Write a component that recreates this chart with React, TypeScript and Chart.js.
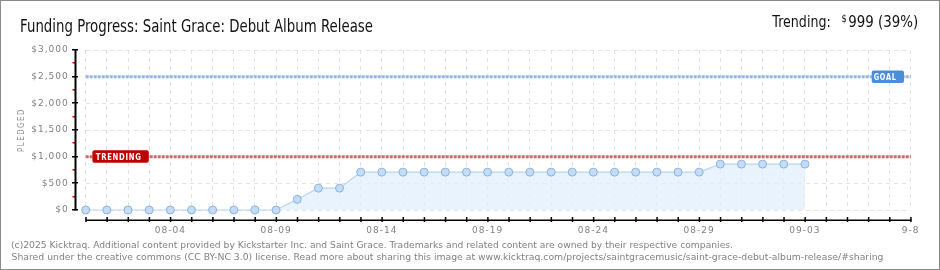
import React, { useEffect, useRef } from 'react';
import { Chart, registerables } from 'chart.js';

Chart.register(...registerables);

// ---- data ----
const dates = [
  '07-31',
  '08-01', '08-02', '08-03', '08-04', '08-05', '08-06', '08-07', '08-08', '08-09', '08-10',
  '08-11', '08-12', '08-13', '08-14', '08-15', '08-16', '08-17', '08-18', '08-19', '08-20',
  '08-21', '08-22', '08-23', '08-24', '08-25', '08-26', '08-27', '08-28', '08-29', '08-30',
  '08-31', '09-01', '09-02', '09-03', '09-04', '09-05', '09-06', '09-07', '09-08',
];
const pledged: (number | null)[] = [
  0, 0, 0, 0, 0, 0, 0, 0, 0, 0,
  200, 410, 410, 710, 710, 710, 710, 710, 710, 710,
  710, 710, 710, 710, 710, 710, 710, 710, 710, 710,
  860, 860, 860, 860, 860, null, null, null, null, null,
];
const tickDates = ['08-04', '08-09', '08-14', '08-19', '08-24', '08-29', '09-03', '09-08'];
const tickTexts = ['08-04', '08-09', '08-14', '08-19', '08-24', '08-29', '09-03', '9-8'];
const goalValue = 2500;
const trendingValue = 999;
const trendingPct = 39;
const titleText = 'Funding Progress: Saint Grace: Debut Album Release';
const footerLine1 =
  '(c)2025 Kicktraq. Additional content provided by Kickstarter Inc. and Saint Grace. Trademarks and related content are owned by their respective companies.';
const footerLine2 =
  'Shared under the creative commons (CC BY-NC 3.0) license. Read more about sharing this image at www.kicktraq.com/projects/saintgracemusic/saint-grace-debut-album-release/#sharing';

const W = 940;
const H = 270;

function fitText(
  ctx: CanvasRenderingContext2D,
  text: string,
  x: number,
  y: number,
  w: number,
  font: string,
  color: string,
  spacing = '0px'
) {
  ctx.save();
  ctx.font = font;
  (ctx as any).letterSpacing = spacing;
  ctx.fillStyle = color;
  ctx.textAlign = 'left';
  ctx.textBaseline = 'alphabetic';
  const m = ctx.measureText(text).width;
  const s = w / m;
  ctx.translate(x, y);
  ctx.scale(s, 1);
  ctx.fillText(text, 0, 0);
  ctx.restore();
}

function dashedLine(ctx: CanvasRenderingContext2D, x1: number, x2: number, y: number, color: string) {
  ctx.save();
  ctx.lineWidth = 3;
  ctx.strokeStyle = color;
  ctx.setLineDash([3, 1]);
  ctx.beginPath();
  ctx.moveTo(x1, y);
  ctx.lineTo(x2, y);
  ctx.stroke();
  ctx.restore();
}

function roundBox(ctx: CanvasRenderingContext2D, x: number, y: number, w: number, h: number, color: string) {
  ctx.save();
  ctx.fillStyle = color;
  ctx.beginPath();
  (ctx as any).roundRect(x, y, w, h, 2);
  ctx.fill();
  ctx.restore();
}

const decorPlugin = {
  id: 'decor',
  beforeDraw(chart: any) {
    (chart.ctx as any).letterSpacing = '1px';
  },
  beforeDatasetsDraw(chart: any) {
    const ctx: CanvasRenderingContext2D = chart.ctx;
    const { left, right } = chart.chartArea;
    const ys = chart.scales.y;
    dashedLine(ctx, left, right, ys.getPixelForValue(goalValue), '#93b7e2');
    dashedLine(ctx, left, right, ys.getPixelForValue(trendingValue), '#d06a6a');
  },
  afterDraw(chart: any) {
    const ctx: CanvasRenderingContext2D = chart.ctx;
    (ctx as any).letterSpacing = '0px';
    const { left, right, top, bottom } = chart.chartArea;
    const xs = chart.scales.x;
    const ys = chart.scales.y;

    // y axis line + ticks
    ctx.save();
    for (let v = 0; v <= 3000; v += 250) {
      const y = Math.round(ys.getPixelForValue(v));
      if (v % 500 === 0) {
        ctx.fillStyle = '#000';
        ctx.fillRect(72, y - 1, 6, 1.5);
      } else {
        ctx.fillStyle = '#e00000';
        ctx.fillRect(72.5, y - 1, 3, 1.5);
      }
    }
    ctx.fillStyle = '#000';
    ctx.fillRect(74.5, Math.round(top) - 1, 2, Math.round(bottom - top) + 1.5);
    // x axis line + ticks
    ctx.fillRect(left, bottom + 9.5, right - left + 0.5, 1.5);
    for (let i = 0; i < dates.length; i++) {
      const x = xs.getPixelForValue(i);
      ctx.fillRect(x - 0.5, bottom + 7, 1.5, 5);
    }
    ctx.restore();

    // TRENDING label
    const ty = ys.getPixelForValue(trendingValue);
    roundBox(ctx, left + 6.7, ty - 6.5, 56.4, 12.5, '#c00000');
    fitText(ctx, 'TRENDING', left + 10, ty + 3.5, 46, 'bold 9px "DejaVu Sans"', '#fff', '1px');

    // GOAL label
    const gy = ys.getPixelForValue(goalValue);
    roundBox(ctx, right - 39, gy - 6.2, 32.3, 12.6, '#4a8ed9');
    fitText(ctx, 'GOAL', right - 37, gy + 3.8, 23, 'bold 9px "DejaVu Sans"', '#fff', '1px');

    // PLEDGED axis title
    ctx.save();
    ctx.translate(23.5, 152);
    ctx.rotate(-Math.PI / 2);
    fitText(ctx, 'PLEDGED', 0, 0, 44, '9px "DejaVu Sans"', '#888', '2px');
    ctx.restore();

    // title
    fitText(ctx, titleText, 20, 31.5, 353, '18px "DejaVu Sans", sans-serif', '#111');
    // trending summary
    fitText(ctx, 'Trending:', 772.3, 27, 58.4, '16px "DejaVu Sans", sans-serif', '#111');
    fitText(ctx, '$', 841.5, 22, 5.2, '10px "DejaVu Sans", sans-serif', '#111');
    fitText(ctx, `999 (${trendingPct}%)`, 848.3, 27, 70, '16px "DejaVu Sans", sans-serif', '#111');

    // footer
    fitText(ctx, footerLine1, 11, 247.5, 722, '9px "DejaVu Sans"', '#808080');
    fitText(ctx, footerLine2, 11.5, 259.5, 872, '9px "DejaVu Sans"', '#808080');

    // border
    ctx.save();
    ctx.strokeStyle = '#8a8a8a';
    ctx.lineWidth = 1;
    ctx.strokeRect(0.5, 0.5, W - 1, H - 1);
    ctx.restore();
  },
};

export default function App() {
  const ref = useRef<HTMLCanvasElement | null>(null);

  useEffect(() => {
    if (!ref.current) return;
    const chart = new Chart(ref.current, {
      type: 'line',
      data: {
        labels: dates,
        datasets: [
          {
            data: pledged,
            borderColor: '#b7d5f3',
            borderWidth: 1.2,
            backgroundColor: 'rgba(228,240,253,0.8)',
            fill: 'origin',
            tension: 0,
            clip: false,
            pointRadius: 4,
            pointBorderWidth: 1,
            pointBackgroundColor: '#c3dcf7',
            pointBorderColor: '#8fb2da',
          },
        ],
      },
      options: {
        responsive: false,
        animation: false,
        devicePixelRatio: 1,
        layout: { padding: { left: 0, right: W - 910.7, top: 50, bottom: 0 } },
        plugins: { legend: { display: false }, tooltip: { enabled: false }, title: { display: false } },
        scales: {
          x: {
            type: 'category',
            offset: false,
            afterFit: (s: any) => {
              s.height = H - 210;
            },
            grid: { display: true, drawTicks: false, color: '#e2e2e2', lineWidth: 1 },
            border: { display: false, dash: [4, 4] },
            ticks: {
              autoSkip: false,
              maxRotation: 0,
              padding: 15,
              color: '#808080',
              font: { family: 'DejaVu Sans', size: 9 },
              callback: (_v: any, i: number) => {
                const k = tickDates.indexOf(dates[i]);
                return k >= 0 ? tickTexts[k] : '';
              },
            },
          },
          y: {
            type: 'linear',
            min: 0,
            max: 3000,
            afterFit: (s: any) => {
              s.width = 85.7;
            },
            grid: { display: true, drawTicks: false, color: '#e2e2e2', lineWidth: 1 },
            border: { display: false, dash: [4, 4] },
            ticks: {
              stepSize: 500,
              padding: 17,
              color: '#808080',
              font: { family: 'DejaVu Sans', size: 9 },
              callback: (v: any) => '$' + Number(v).toLocaleString('en-US'),
            },
          },
        },
      } as any,
      plugins: [decorPlugin],
    });
    return () => chart.destroy();
  }, []);

  return (
    <div style={{ position: 'fixed', left: 0, top: 0, width: W, height: H, background: '#fff' }}>
      <canvas ref={ref} width={W} height={H} style={{ display: 'block', width: W, height: H }} />
    </div>
  );
}
